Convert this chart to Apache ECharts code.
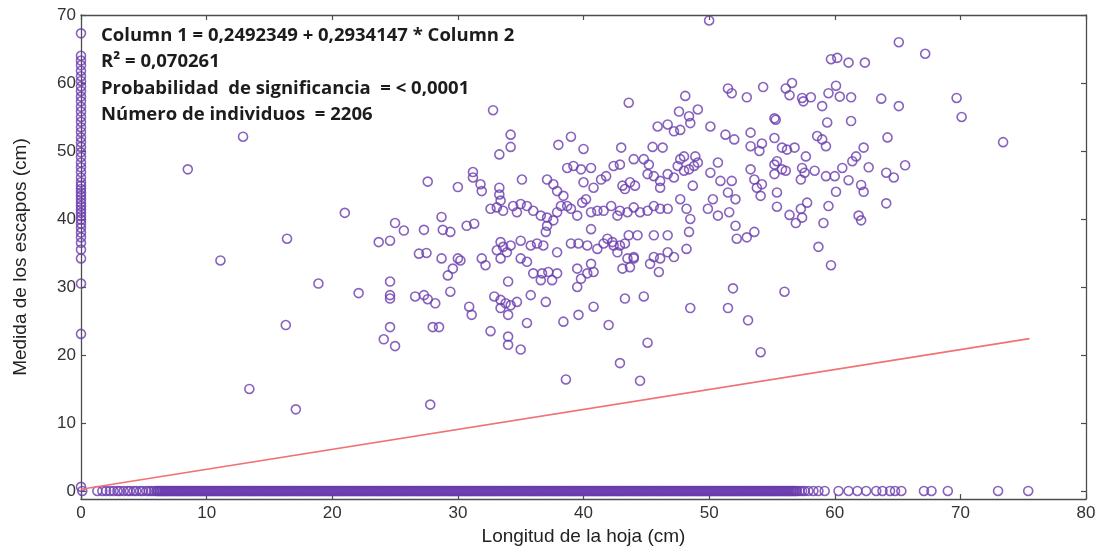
<!DOCTYPE html>
<html>
<head>
<meta charset="utf-8">
<script src="https://cdn.jsdelivr.net/npm/echarts@6/dist/echarts.min.js"></script>
<style>
  html, body { margin: 0; padding: 0; background: #ffffff; }
  #chart { width: 1104px; height: 551px; }
</style>
</head>
<body>
<div id="chart"></div>
<script>
// Axis ticks
const xTicks = [0, 10, 20, 30, 40, 50, 60, 70, 80];
const yTicks = [0, 10, 20, 30, 40, 50, 60, 70];

// Fitted line: Column 1 = intercept + slope * Column 2
const fitIntercept = 0.2492349;
const fitSlope = 0.2934147;
const fitRangeX = [0, 75.5];

// Plants with leaf length 0 (scape height only)
const scapeOnlyY = [67.3, 64.0, 63.3, 62.6, 61.8, 61.0, 60.3, 59.5, 58.8, 58.0, 57.3, 56.5,
  55.8, 55.0, 54.3, 53.5, 52.8, 52.0, 51.3, 50.6, 49.8, 49.1, 48.3, 47.6, 46.9, 46.1,
  45.4, 44.9, 44.4, 43.9, 43.4, 42.9, 42.4, 41.9, 41.4, 40.9, 40.4, 39.9, 39.3, 38.7,
  38.0, 37.3, 36.5, 35.5, 34.2, 30.5, 23.1, 0.6];

// Plants without scape (height 0); they pile up along the axis
const leafOnlyX = [0.1, 1.3, 1.7, 2.0, 2.3, 2.6, 2.9, 3.1, 3.4, 3.7, 3.9, 4.2, 4.4, 4.7, 4.9,
  5.2, 5.4, 5.6, 5.8,
  6.0, 6.1, 6.2, 6.3, 6.4, 6.5, 6.6, 6.7, 6.8, 6.9, 7.0, 7.1, 7.2, 7.3, 7.4, 7.5, 7.6, 7.7, 7.8, 7.9,
  8.0, 8.1, 8.2, 8.3, 8.4, 8.5, 8.6, 8.7, 8.8, 8.9, 9.0, 9.1, 9.2, 9.3, 9.4, 9.5, 9.6, 9.7, 9.8, 9.9,
  10.0, 10.1, 10.2, 10.3, 10.4, 10.5, 10.6, 10.7, 10.8, 10.9, 11.0, 11.1, 11.2, 11.3, 11.4, 11.5, 11.6, 11.7, 11.8, 11.9,
  12.0, 12.1, 12.2, 12.3, 12.4, 12.5, 12.6, 12.7, 12.8, 12.9, 13.0, 13.1, 13.2, 13.3, 13.4, 13.5, 13.6, 13.7, 13.8, 13.9,
  14.0, 14.1, 14.2, 14.3, 14.4, 14.5, 14.6, 14.7, 14.8, 14.9, 15.0, 15.1, 15.2, 15.3, 15.4, 15.5, 15.6, 15.7, 15.8, 15.9,
  16.0, 16.1, 16.2, 16.3, 16.4, 16.5, 16.6, 16.7, 16.8, 16.9, 17.0, 17.1, 17.2, 17.3, 17.4, 17.5, 17.6, 17.7, 17.8, 17.9,
  18.0, 18.1, 18.2, 18.3, 18.4, 18.5, 18.6, 18.7, 18.8, 18.9, 19.0, 19.1, 19.2, 19.3, 19.4, 19.5, 19.6, 19.7, 19.8, 19.9,
  20.0, 20.1, 20.2, 20.3, 20.4, 20.5, 20.6, 20.7, 20.8, 20.9, 21.0, 21.1, 21.2, 21.3, 21.4, 21.5, 21.6, 21.7, 21.8, 21.9,
  22.0, 22.1, 22.2, 22.3, 22.4, 22.5, 22.6, 22.7, 22.8, 22.9, 23.0, 23.1, 23.2, 23.3, 23.4, 23.5, 23.6, 23.7, 23.8, 23.9,
  24.0, 24.1, 24.2, 24.3, 24.4, 24.5, 24.6, 24.7, 24.8, 24.9, 25.0, 25.1, 25.2, 25.3, 25.4, 25.5, 25.6, 25.7, 25.8, 25.9,
  26.0, 26.1, 26.2, 26.3, 26.4, 26.5, 26.6, 26.7, 26.8, 26.9, 27.0, 27.1, 27.2, 27.3, 27.4, 27.5, 27.6, 27.7, 27.8, 27.9,
  28.0, 28.1, 28.2, 28.3, 28.4, 28.5, 28.6, 28.7, 28.8, 28.9, 29.0, 29.1, 29.2, 29.3, 29.4, 29.5, 29.6, 29.7, 29.8, 29.9,
  30.0, 30.1, 30.2, 30.3, 30.4, 30.5, 30.6, 30.7, 30.8, 30.9, 31.0, 31.1, 31.2, 31.3, 31.4, 31.5, 31.6, 31.7, 31.8, 31.9,
  32.0, 32.1, 32.2, 32.3, 32.4, 32.5, 32.6, 32.7, 32.8, 32.9, 33.0, 33.1, 33.2, 33.3, 33.4, 33.5, 33.6, 33.7, 33.8, 33.9,
  34.0, 34.1, 34.2, 34.3, 34.4, 34.5, 34.6, 34.7, 34.8, 34.9, 35.0, 35.1, 35.2, 35.3, 35.4, 35.5, 35.6, 35.7, 35.8, 35.9,
  36.0, 36.1, 36.2, 36.3, 36.4, 36.5, 36.6, 36.7, 36.8, 36.9, 37.0, 37.1, 37.2, 37.3, 37.4, 37.5, 37.6, 37.7, 37.8, 37.9,
  38.0, 38.1, 38.2, 38.3, 38.4, 38.5, 38.6, 38.7, 38.8, 38.9, 39.0, 39.1, 39.2, 39.3, 39.4, 39.5, 39.6, 39.7, 39.8, 39.9,
  40.0, 40.1, 40.2, 40.3, 40.4, 40.5, 40.6, 40.7, 40.8, 40.9, 41.0, 41.1, 41.2, 41.3, 41.4, 41.5, 41.6, 41.7, 41.8, 41.9,
  42.0, 42.1, 42.2, 42.3, 42.4, 42.5, 42.6, 42.7, 42.8, 42.9, 43.0, 43.1, 43.2, 43.3, 43.4, 43.5, 43.6, 43.7, 43.8, 43.9,
  44.0, 44.1, 44.2, 44.3, 44.4, 44.5, 44.6, 44.7, 44.8, 44.9, 45.0, 45.1, 45.2, 45.3, 45.4, 45.5, 45.6, 45.7, 45.8, 45.9,
  46.0, 46.1, 46.2, 46.3, 46.4, 46.5, 46.6, 46.7, 46.8, 46.9, 47.0, 47.1, 47.2, 47.3, 47.4, 47.5, 47.6, 47.7, 47.8, 47.9,
  48.0, 48.1, 48.2, 48.3, 48.4, 48.5, 48.6, 48.7, 48.8, 48.9, 49.0, 49.1, 49.2, 49.3, 49.4, 49.5, 49.6, 49.7, 49.8, 49.9,
  50.0, 50.1, 50.2, 50.3, 50.4, 50.5, 50.6, 50.7, 50.8, 50.9, 51.0, 51.1, 51.2, 51.3, 51.4, 51.5, 51.6, 51.7, 51.8, 51.9,
  52.0, 52.1, 52.2, 52.3, 52.4, 52.5, 52.6, 52.7, 52.8, 52.9, 53.0, 53.1, 53.2, 53.3, 53.4, 53.5, 53.6, 53.7, 53.8, 53.9,
  54.0, 54.1, 54.2, 54.3, 54.4, 54.5, 54.6, 54.7, 54.8, 54.9, 55.0, 55.1, 55.2, 55.3, 55.4, 55.5, 55.6, 55.7, 55.8, 55.9,
  56.0, 56.1, 56.2, 56.3, 56.4, 56.5, 56.6, 56.7, 56.8, 56.9, 57.0, 57.2, 57.4, 57.6, 57.9, 58.3, 58.7,
  59.2, 60.3, 61.1, 61.8, 62.5, 63.3, 63.8, 64.4, 64.8, 65.3, 67.1, 67.7, 69.0, 73.0, 75.4];

// [leaf length, scape height] for plants with both measures
const shortLeafPlants = [
  [12.9, 52.1], [8.5, 47.3], [27.6, 45.5], [30.0, 44.7], [21.0, 40.9], [28.7, 40.3],
  [25.0, 39.4], [25.7, 38.3], [27.3, 38.4], [28.8, 38.4], [29.4, 38.1], [16.4, 37.1],
  [23.7, 36.6], [24.6, 36.8], [26.9, 34.9], [27.5, 35.0], [28.7, 34.2], [30.0, 34.2],
  [11.1, 33.9], [29.2, 31.7], [29.6, 32.7], [18.9, 30.5], [24.6, 30.8], [22.1, 29.1],
  [24.6, 28.8], [26.6, 28.6], [27.3, 28.8], [29.4, 29.3], [24.6, 28.3], [27.6, 28.2],
  [28.2, 27.6], [16.3, 24.4], [24.6, 24.1], [24.1, 22.3], [25.0, 21.3], [28.0, 24.1],
  [28.5, 24.1], [13.4, 15.0], [17.1, 12.0], [27.8, 12.7]
];

const midLeafPlants = [
  [32.8, 56.0], [43.6, 57.1], [48.1, 58.1], [47.6, 55.8], [48.4, 55.1], [49.1, 56.1],
  [48.5, 54.1], [45.9, 53.6], [46.7, 53.9], [47.2, 52.9], [47.7, 53.1], [34.2, 52.4],
  [34.2, 50.6], [33.3, 49.5], [38.0, 50.9], [39.0, 52.1], [40.0, 50.3], [43.0, 50.5],
  [45.5, 50.6], [46.3, 50.5], [48.9, 49.2], [48.0, 49.2], [47.7, 48.8],
  [31.2, 46.9], [31.2, 46.1], [31.8, 45.1], [35.1, 45.8], [37.1, 45.8], [37.6, 45.1],
  [38.7, 47.5], [39.2, 47.8], [39.8, 47.3], [40.6, 47.5], [40.0, 45.4], [41.4, 45.8],
  [41.8, 46.3], [42.4, 47.8], [42.9, 48.0], [43.1, 44.9], [43.3, 44.4], [43.7, 45.4],
  [44.1, 44.9], [44.0, 48.8], [44.8, 48.8], [45.2, 48.0], [45.1, 46.6], [45.6, 46.3],
  [46.1, 44.6], [46.1, 45.6], [46.7, 46.6], [47.5, 47.8], [48.0, 47.1], [48.4, 47.3],
  [48.8, 47.8], [49.1, 48.3], [48.7, 44.9], [47.2, 46.1],
  [33.3, 44.6], [33.3, 43.6], [31.9, 44.1], [33.4, 42.7], [37.9, 44.1], [38.4, 43.4],
  [38.2, 41.9], [38.7, 41.9], [40.2, 42.9], [40.8, 44.6],
  [32.6, 41.5], [33.1, 41.7], [33.6, 41.2], [34.4, 41.9], [35.0, 42.2], [34.7, 41.0],
  [35.5, 41.9], [36.0, 41.2], [36.6, 40.5], [37.1, 40.2], [37.6, 39.8], [37.9, 41.0],
  [39.0, 41.5], [39.9, 42.4], [39.5, 40.5], [40.6, 41.0], [41.1, 41.2], [41.6, 41.2],
  [42.2, 41.9], [42.7, 40.5], [42.9, 41.2], [43.5, 41.0], [44.0, 41.7], [44.5, 41.0],
  [45.1, 41.2], [45.6, 41.9], [46.1, 41.5], [46.7, 41.5], [47.7, 42.9], [48.5, 40.0],
  [48.2, 41.5],
  [30.7, 39.0], [31.3, 39.3], [37.1, 39.0], [37.0, 38.1], [40.6, 38.5], [43.3, 36.4],
  [33.4, 36.6], [33.6, 35.9], [33.9, 35.1], [33.4, 34.2], [33.1, 35.4], [34.2, 36.1],
  [35.0, 36.8], [35.8, 36.1], [36.3, 36.4], [36.8, 36.1], [37.9, 35.1], [39.0, 36.4],
  [39.6, 36.4], [40.3, 36.1], [41.1, 35.6], [41.6, 36.4], [41.9, 37.1], [42.4, 36.1],
  [42.9, 36.1], [42.7, 35.1], [42.3, 36.6], [43.6, 37.6], [44.3, 37.6], [44.0, 34.4],
  [45.6, 37.6], [46.7, 37.6], [48.2, 35.6], [48.4, 38.1],
  [31.9, 34.2], [32.2, 33.2], [30.2, 33.9], [35.0, 34.2], [35.5, 33.7], [36.0, 32.0],
  [36.7, 32.0], [37.2, 32.2], [37.9, 32.0], [36.6, 31.0], [37.5, 31.0], [39.5, 32.7],
  [39.8, 31.2], [40.6, 33.4], [40.3, 32.0], [40.8, 32.2], [39.5, 30.0], [43.5, 34.2],
  [43.7, 32.9], [44.0, 34.2], [43.1, 32.7], [45.6, 34.4], [45.3, 33.4], [46.1, 34.2],
  [46.7, 35.1], [47.2, 34.4], [46.0, 32.2], [34.0, 30.8],
  [30.9, 27.1], [31.1, 25.9], [32.9, 28.6], [33.4, 28.1], [33.8, 27.6], [34.2, 27.3],
  [34.7, 27.8], [34.0, 25.9], [33.4, 26.9], [35.8, 28.8], [37.0, 27.8], [38.4, 24.9],
  [39.6, 25.9], [40.8, 27.1], [43.3, 28.3], [44.8, 28.6], [42.0, 24.4], [48.5, 26.9],
  [35.5, 24.7], [32.6, 23.5], [34.0, 22.7], [34.0, 21.5], [35.0, 20.8], [45.1, 21.8],
  [42.9, 18.8], [38.6, 16.4], [44.5, 16.2]
];

const longLeafPlants = [
  [50.0, 69.2], [65.1, 66.0], [67.2, 64.3], [59.7, 63.5], [60.2, 63.7], [61.1, 63.0],
  [62.4, 63.0], [51.5, 59.2], [51.8, 58.5], [53.0, 57.9], [54.3, 59.4], [56.1, 59.2],
  [56.6, 60.0], [56.4, 58.2], [57.4, 57.8], [58.1, 57.9], [57.5, 57.3], [59.0, 56.6],
  [59.5, 58.5], [60.1, 59.6], [60.4, 58.0], [61.3, 57.9], [63.7, 57.7], [65.1, 56.6],
  [69.7, 57.8], [70.1, 55.0], [73.4, 51.3], [55.2, 54.8], [55.3, 54.6], [59.4, 54.2],
  [61.3, 54.4], [64.2, 52.0], [62.3, 50.5], [62.7, 47.6], [65.6, 47.9], [64.1, 46.8],
  [64.7, 46.1], [64.1, 42.3], [61.9, 40.5], [62.1, 39.8], [59.7, 33.2], [58.7, 35.9],
  [59.1, 39.4], [59.5, 41.9], [60.1, 44.0], [61.1, 45.7], [62.1, 45.0], [62.3, 44.0],
  [60.6, 47.5], [61.4, 48.5], [61.7, 49.2], [59.3, 46.3], [60.0, 46.3], [58.6, 52.2],
  [59.0, 51.7], [59.3, 50.7],
  [56.8, 50.5], [56.2, 50.2], [55.8, 50.5], [57.7, 49.2], [57.4, 47.5], [58.4, 47.1],
  [57.6, 46.8], [57.3, 45.8], [57.8, 42.4], [57.3, 41.5], [57.4, 40.2], [56.9, 39.4],
  [56.4, 40.6], [55.4, 43.9], [55.4, 41.8], [55.2, 46.6], [55.2, 48.0], [55.4, 48.5],
  [55.8, 47.3], [56.1, 47.1], [55.2, 51.9], [53.3, 52.7], [53.3, 50.7], [54.0, 50.0],
  [54.2, 51.1], [52.0, 51.7], [51.3, 52.4], [50.1, 53.6],
  [50.1, 46.8], [50.7, 48.3], [50.9, 45.6], [51.8, 45.6], [51.5, 43.9], [52.1, 42.9],
  [51.6, 41.0], [50.7, 40.5], [49.9, 41.5], [50.3, 42.9], [52.1, 39.0], [52.2, 37.1],
  [53.0, 37.3], [53.6, 38.1], [51.9, 29.8], [56.0, 29.3], [54.1, 43.4], [54.2, 45.1],
  [53.6, 45.8], [53.3, 47.3], [53.8, 44.6],
  [51.5, 26.9], [53.1, 25.1], [54.1, 20.4]
];

const markerColor = '#6a3cae';
const axisColor = '#4d4d4d';
const textColor = '#333333';

const scatterStyle = {
  type: 'scatter',
  symbol: 'circle',
  symbolSize: 9,
  clip: false,
  itemStyle: { color: 'rgba(255,255,255,0)', borderColor: markerColor, borderWidth: 1.6 },
  emphasis: { disabled: true },
  z: 2
};

const pairs = shortLeafPlants.concat(midLeafPlants, longLeafPlants);
const zeroLeaf = scapeOnlyY.map(v => [0, v]);
const zeroScape = leafOnlyX.map(v => [v, 0]);
const fitLine = fitRangeX.map(x => [x, fitIntercept + fitSlope * x]);

const annotationLines = [
  'Column 1 = 0,2492349 + 0,2934147 * Column 2',
  'R\u00B2 = 0,070261',
  'Probabilidad  de significancia  = < 0,0001',
  'N\u00FAmero de individuos  = 2206'
];

const chart = echarts.init(document.getElementById('chart'), null, { renderer: 'canvas' });

const baseFont = 'Liberation Sans, Arial, sans-serif';

const option = {
  animation: false,
  backgroundColor: '#ffffff',
  grid: { left: 81, right: 18, top: 15, bottom: 49, containLabel: false },
  xAxis: [
    {
      type: 'value', position: 'bottom', min: 0, max: 80, interval: 10,
      name: 'Longitud de la hoja (cm)', nameLocation: 'middle', nameGap: 27,
      nameTextStyle: { fontFamily: baseFont, fontSize: 19, color: '#222' },
      axisLine: { show: true, onZero: false, lineStyle: { color: axisColor, width: 1.3 } },
      axisTick: { show: true, inside: true, length: 5, lineStyle: { color: axisColor, width: 1.2 } },
      axisLabel: { fontFamily: baseFont, fontSize: 17, color: textColor, margin: 6 },
      splitLine: { show: false }
    },
    {
      type: 'value', position: 'top', min: 0, max: 80, interval: 10,
      axisLine: { show: true, onZero: false, lineStyle: { color: axisColor, width: 1.3 } },
      axisTick: { show: true, inside: true, length: 5, lineStyle: { color: axisColor, width: 1.2 } },
      axisLabel: { show: false },
      splitLine: { show: false }
    }
  ],
  yAxis: [
    {
      type: 'value', position: 'left', min: -1.2, max: 70,
      name: 'Medida de los escapos (cm)', nameLocation: 'middle', nameGap: 51, nameRotate: 90,
      nameTextStyle: { fontFamily: baseFont, fontSize: 19, color: '#222' },
      axisLine: { show: true, onZero: false, lineStyle: { color: axisColor, width: 1.3 } },
      axisTick: { show: true, inside: true, length: 5, customValues: yTicks, lineStyle: { color: axisColor, width: 1.2 } },
      axisLabel: { fontFamily: baseFont, fontSize: 17, color: textColor, margin: 5, customValues: yTicks },
      splitLine: { show: false }
    },
    {
      type: 'value', position: 'right', min: -1.2, max: 70,
      axisLine: { show: true, onZero: false, lineStyle: { color: axisColor, width: 1.3 } },
      axisTick: { show: true, inside: true, length: 5, customValues: yTicks, lineStyle: { color: axisColor, width: 1.2 } },
      axisLabel: { show: false, customValues: yTicks },
      splitLine: { show: false }
    }
  ],
  series: [
    Object.assign({}, scatterStyle, { name: 'hoja y escapo', data: pairs }),
    Object.assign({}, scatterStyle, { name: 'solo escapo', data: zeroLeaf }),
    Object.assign({}, scatterStyle, { name: 'solo hoja', data: zeroScape }),
    {
      type: 'line', name: 'ajuste', data: fitLine, showSymbol: false, symbol: 'none',
      lineStyle: { color: '#f07272', width: 1.6 }, emphasis: { disabled: true }, z: 3
    }
  ],
  graphic: annotationLines.map((t, i) => ({
    type: 'text',
    x: 101,
    y: 35.5 + i * 26.5,
    z: 10,
    style: {
      text: t,
      fill: '#1c1c1c',
      font: 'bold 18.5px "Open Sans", "Noto Sans", sans-serif',
      verticalAlign: 'middle',
      align: 'left'
    }
  }))
};

chart.setOption(option);
</script>
</body>
</html>
